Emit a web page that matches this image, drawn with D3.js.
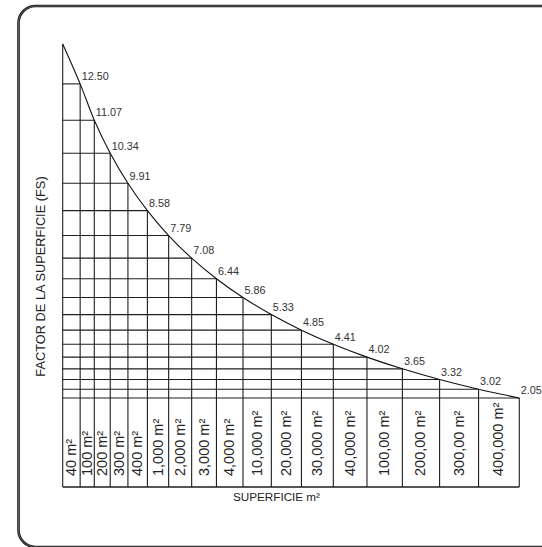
<!DOCTYPE html>
<html>
<head>
<meta charset="utf-8">
<script src="https://cdn.jsdelivr.net/npm/d3@7"></script>
<style>
  html, body { margin: 0; padding: 0; background: #fff; }
  svg { display: block; }
  text { font-family: "Liberation Sans", Arial, Helvetica, sans-serif; }
</style>
</head>
<body>
<svg id="chart" width="542" height="547"></svg>
<script>
// ---- data ----
const categories = ["40 m²", "100 m²", "200 m²", "300 m²", "400 m²", "1,000 m²", "2,000 m²",
  "3,000 m²", "4,000 m²", "10,000 m²", "20,000 m²", "30,000 m²", "40,000 m²",
  "100,00 m²", "200,00 m²", "300,00 m²", "400,000 m²"];
const factors = [12.50, 11.07, 10.34, 9.91, 8.58, 7.79, 7.08, 6.44, 5.86, 5.33,
  4.85, 4.41, 4.02, 3.65, 3.32, 3.02, 2.05];
const xTitle = "SUPERFICIE m²";
const yTitle = "FACTOR DE LA SUPERFICIE (FS)";

// ---- layout ----
const svg = d3.select("#chart");
const left = 62.7, right = 519.3;
const apexY = 44, gridBottom = 398, axisBottom = 487;
const n = categories.length;

// column boundaries widen progressively (schematic drawing):
// quadratic warp of the column index, first column has an extra lead width
const leadW = 0.441, kx = 0.0771;
const gx = i => i === 0 ? 0 : leadW + i + kx * i * i;
const x = d3.scaleLinear().domain([gx(0), gx(n)]).range([left, right]);
const X = i => x(gx(i));

// factor levels descend with decreasing steps: geometric warp of rank
const r = 0.91;
const gy = j => 1 - Math.pow(r, j);
const y = d3.scaleLinear().domain([gy(0), gy(n)]).range([apexY, gridBottom]);
const Y = j => y(gy(j));

// points: apex + one per column right edge
const pts = [{i: 0, v: null}].concat(factors.map((v, k) => ({i: k + 1, v})));

// ---- frame ----
svg.append("rect")
  .attr("x", 18.5).attr("y", 6).attr("width", 700).attr("height", 541)
  .attr("rx", 17).attr("ry", 17)
  .attr("fill", "none").attr("stroke", "#1a1a1a").attr("stroke-width", 2.6);
svg.append("rect")
  .attr("x", 18.5).attr("y", 6).attr("width", 700).attr("height", 541)
  .attr("rx", 17).attr("ry", 17)
  .attr("fill", "none").attr("stroke", "#8a8a8a").attr("stroke-width", 0.6);

const g = svg.append("g");
const lineColor = "#1e1e1e";

// horizontal grid lines (staircase)
g.selectAll("line.h").data(pts.slice(1)).join("line")
  .attr("class", "h")
  .attr("x1", left).attr("x2", d => X(d.i))
  .attr("y1", d => Y(d.i)).attr("y2", d => Y(d.i))
  .attr("stroke", lineColor).attr("stroke-width", 1.1);

// vertical column lines
g.selectAll("line.v").data(pts).join("line")
  .attr("class", "v")
  .attr("x1", d => X(d.i)).attr("x2", d => X(d.i))
  .attr("y1", d => Y(d.i)).attr("y2", axisBottom)
  .attr("stroke", lineColor).attr("stroke-width", 1.1);

// bottom axis line
g.append("line")
  .attr("x1", left).attr("x2", X(n))
  .attr("y1", axisBottom).attr("y2", axisBottom)
  .attr("stroke", lineColor).attr("stroke-width", 1.3);

// curve
const line = d3.line().x(d => X(d.i)).y(d => Y(d.i)).curve(d3.curveCatmullRom.alpha(0.5));
g.append("path").datum(pts)
  .attr("d", line)
  .attr("fill", "none").attr("stroke", "#111").attr("stroke-width", 1.1);

// value labels
g.selectAll("text.val").data(pts.slice(1)).join("text")
  .attr("class", "val")
  .attr("x", d => X(d.i) + 1.5)
  .attr("y", d => Y(d.i) - 3.7)
  .attr("font-size", 10.8)
  .attr("fill", "#333")
  .text(d => d.v.toFixed(2));

// category labels (rotated)
g.selectAll("text.cat").data(categories).join("text")
  .attr("class", "cat")
  .attr("transform", (d, k) => {
    const cx = (X(k) + X(k + 1)) / 2;
    return `translate(${cx + 4.5},476) rotate(-90)`;
  })
  .attr("font-size", 14.5)
  .attr("fill", "#222")
  .text(d => d);

// axis titles
svg.append("text")
  .attr("x", 276.5).attr("y", 501)
  .attr("text-anchor", "middle")
  .attr("font-size", 11.7)
  .attr("fill", "#222")
  .text(xTitle);

svg.append("text")
  .attr("transform", "translate(45,276.5) rotate(-90)")
  .attr("text-anchor", "middle")
  .attr("font-size", 12.8)
  .attr("fill", "#222")
  .text(yTitle);
</script>
</body>
</html>
